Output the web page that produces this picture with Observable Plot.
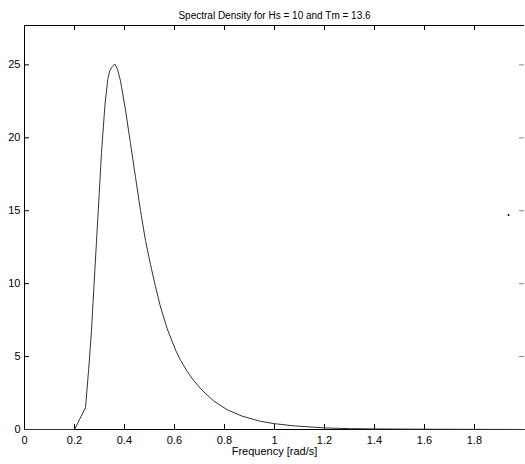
<!DOCTYPE html>
<html>
<head>
<meta charset="utf-8">
<script src="https://cdn.jsdelivr.net/npm/d3@7"></script>
<script src="https://cdn.jsdelivr.net/npm/@observablehq/plot@0.6"></script>
<style>
  html, body { margin: 0; padding: 0; background: #fff; }
  svg { display: block; }
</style>
</head>
<body>
<div id="chart"></div>
<script>
const titleText = "Spectral Density for Hs = 10 and Tm = 13.6";
const xLabel = "Frequency [rad/s]";

const freq = [0, 0.2, 0.244, 0.257, 0.268, 0.277, 0.288, 0.297, 0.308, 0.322, 0.333, 0.341, 0.352, 0.361,
  0.372, 0.384, 0.404, 0.424, 0.444, 0.464, 0.484, 0.504, 0.524, 0.544, 0.571, 0.604, 0.624, 0.65, 0.677,
  0.71, 0.757, 0.811, 0.87, 0.944, 1.0, 1.077, 1.2, 1.3, 1.4, 1.6, 1.8, 2.0];
const density = [0, 0, 1.5, 4.2, 6.8, 9.6, 12.9, 15.6, 19.0, 22.3, 24.0, 24.6, 24.9, 25.06,
  24.7, 23.9, 21.9, 19.6, 17.3, 15.0, 12.95, 11.3, 9.8, 8.4, 6.9, 5.45, 4.75, 4.0, 3.35,
  2.7, 1.95, 1.35, 0.92, 0.56, 0.4, 0.25, 0.11, 0.06, 0.04, 0.02, 0.01, 0];

const strayX = [1.936];
const strayY = [14.7];

const xTicks = [0, 0.2, 0.4, 0.6, 0.8, 1, 1.2, 1.4, 1.6, 1.8];
const xTickLabels = ["0", "0.2", "0.4", "0.6", "0.8", "1", "1.2", "1.4", "1.6", "1.8"];
const yTicks = [0, 5, 10, 15, 20, 25];
const yTickLabels = ["0", "5", "10", "15", "20", "25"];
const xDomain = [0, 2];
const yDomain = [0, 27.7];

const W = 525, H = 464;
const mL = 24, mR = 1, mT = 25, mB = 35;
const pw = W - mL - mR, ph = H - mT - mB;
const tick = 5;

const curve = freq.map((f, i) => ({f, s: density[i]}));
const stray = strayX.map((x, i) => ({x, y: strayY[i]}));

const chart = Plot.plot({
  width: W,
  height: H,
  marginLeft: mL,
  marginRight: mR,
  marginTop: mT,
  marginBottom: mB,
  style: {fontFamily: "'Liberation Sans', Arial, Helvetica, sans-serif", fontSize: "11px", color: "#000", background: "#fff"},
  x: {domain: xDomain},
  y: {domain: yDomain},
  marks: [
    Plot.axisX({ticks: xTicks, tickFormat: (d) => xTickLabels[xTicks.indexOf(d)], tickSize: 0, tickPadding: 7, label: null, fontSize: 11}),
    Plot.axisY({ticks: yTicks, tickFormat: (d) => yTickLabels[yTicks.indexOf(d)], tickSize: 0, tickPadding: 4, label: null, fontSize: 11}),
    // inward ticks
    Plot.ruleX(xTicks, {x: (d) => d, insetTop: ph - tick, stroke: "#000"}),
    Plot.ruleX(xTicks, {x: (d) => d, insetBottom: ph - tick, stroke: "#000"}),
    Plot.ruleY(yTicks, {y: (d) => d, insetRight: pw - tick, stroke: "#000"}),
    Plot.ruleY(yTicks, {y: (d) => d, insetLeft: pw - tick, stroke: "#888"}),
    // axes box lines
    Plot.ruleX([xDomain[0]], {stroke: "#000"}),
    Plot.ruleY([yDomain[0]], {stroke: "#000", strokeWidth: 1.2}),
    Plot.ruleY([yDomain[1]], {stroke: "#000", strokeWidth: 1.2}),
    // curve
    Plot.line(curve, {x: "f", y: "s", stroke: "#333", strokeWidth: 1}),
    Plot.dot(stray, {x: "x", y: "y", r: 1, fill: "#000", stroke: null}),
    // title & x label
    Plot.text([titleText], {frameAnchor: "top", lineAnchor: "bottom", dy: -7, fontSize: 10, fill: "#000"}),
    Plot.text([xLabel], {frameAnchor: "bottom", lineAnchor: "top", dy: 18, fontSize: 11, fill: "#000"})
  ]
});
document.getElementById("chart").appendChild(chart);
</script>
</body>
</html>
